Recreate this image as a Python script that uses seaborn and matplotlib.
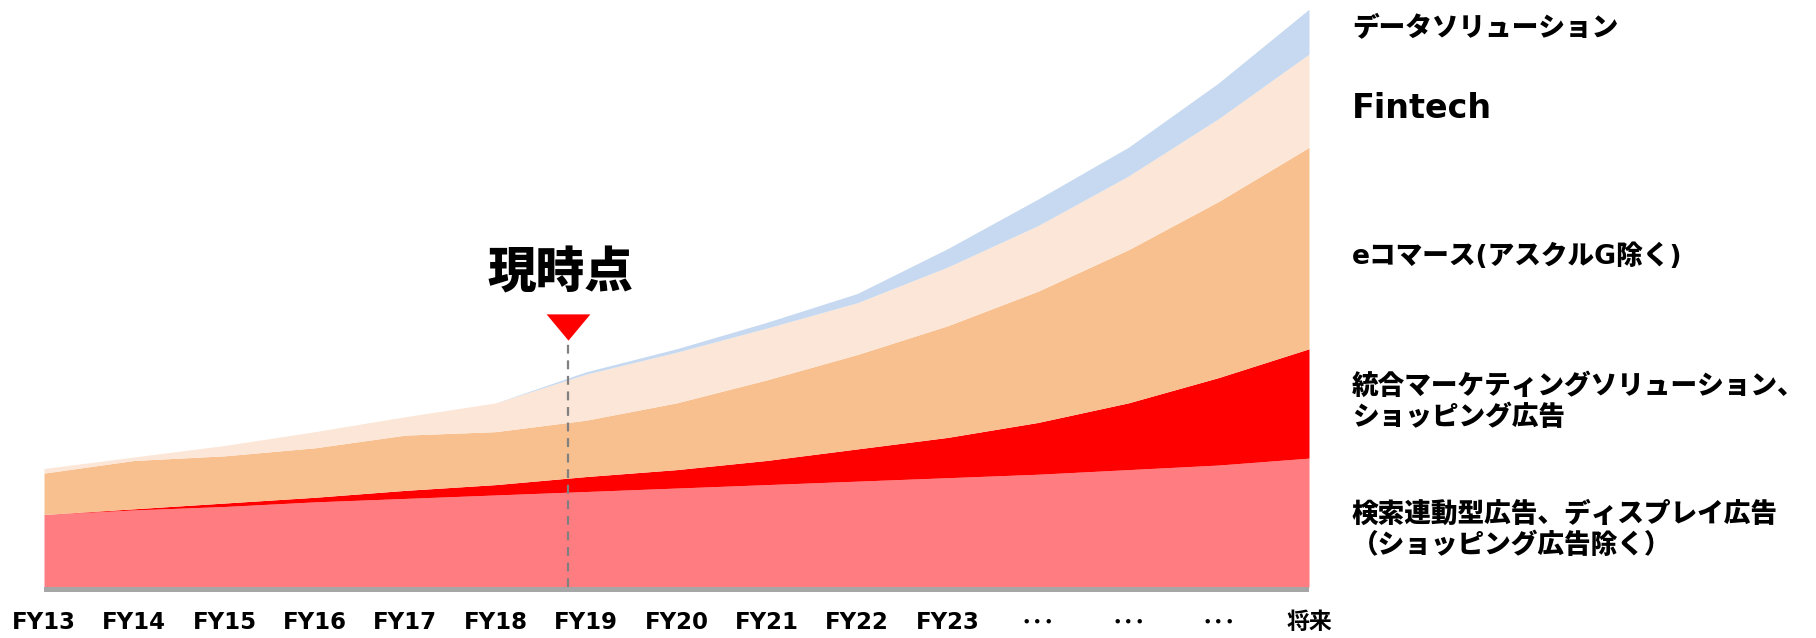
import numpy as np
import matplotlib
matplotlib.use('Agg')
import matplotlib.pyplot as plt
import seaborn as sns

# fiscal years along the x axis
categories = ['FY13', 'FY14', 'FY15', 'FY16', 'FY17', 'FY18', 'FY19', 'FY20',
              'FY21', 'FY22', 'FY23', '･･･', '･･･', '･･･', '将来']

# stacked layer sizes (relative units)
search_ads = [63, 67, 70, 74, 77, 80, 83, 86, 89, 92, 95, 98, 102, 106, 112]
marketing_shopping = [0, 1, 3, 4, 7, 9, 13, 16, 21, 28, 35, 45, 58, 76, 95]
ecommerce = [36, 42, 41, 43, 48, 46, 49, 58, 70, 82, 97, 114, 133, 153, 175]
fintech = [4, 3, 9, 14, 16, 25, 40, 44, 45, 45, 51, 57, 64, 72, 81]
data_solution = [0, 0, 0, 0, 0, 0, 2, 3, 5, 8, 16, 23, 25, 31, 39]

layer_labels = ['検索連動型広告、ディスプレイ広告\n（ショッピング広告除く）',
                '統合マーケティングソリューション、\nショッピング広告',
                'eコマース(アスクルG除く)',
                'Fintech',
                'データソリューション']
layer_colors = ['#FF7C80', '#FF0000', '#F8C08F', '#FBE6D7', '#C6D9F0']

now_x = 5.8
now_label = '現時点'

sns.set_theme(style='white')
plt.rcParams['font.family'] = ['DejaVu Sans', 'Noto Sans CJK JP']

fig = plt.figure(figsize=(18.16, 6.38), dpi=100)
ax = fig.add_axes([44 / 1816, 46 / 638, 1265 / 1816, 592 / 638])

x = np.arange(len(categories))
ax.stackplot(x, search_ads, marketing_shopping, ecommerce, fintech, data_solution,
             colors=layer_colors, linewidth=0)

ax.set_xlim(0, len(categories) - 1)
ax.set_ylim(-4.3, 510)
ax.axhspan(-4.3, 0, color='#A6A6A6', lw=0)

# current point marker
ax.vlines(now_x, 0, 215, colors='#808080', linestyles=(0, (4, 3)), linewidth=1.6, zorder=5)
ax.plot(now_x, 226, marker=[(-1, 0.6), (1, 0.6), (0, -0.6)], ms=31.5,
        color='#FF0000', mew=0, zorder=6)
ax.text(now_x - 0.08, 272, now_label, ha='center', va='center',
        fontsize=35, fontweight='black', color='black')

ax.set_xticks(x)
ax.set_xticklabels(categories, fontsize=16.5, fontweight='bold', color='black')
ax.tick_params(axis='x', length=0, pad=14)
ax.set_yticks([])
sns.despine(ax=ax, left=True, bottom=True)

# labels on the right
label_y = [530, 402, 257, 108, 28]
for lab, yy in zip(layer_labels, label_y):
    fs = 24 if lab == 'Fintech' else 19.2
    fig.text(1352 / 1816, 1 - yy / 638, lab, ha='left', va='center',
             fontsize=fs, fontweight='black', color='black', linespacing=1.25)

plt.savefig('out.png', dpi=100)
